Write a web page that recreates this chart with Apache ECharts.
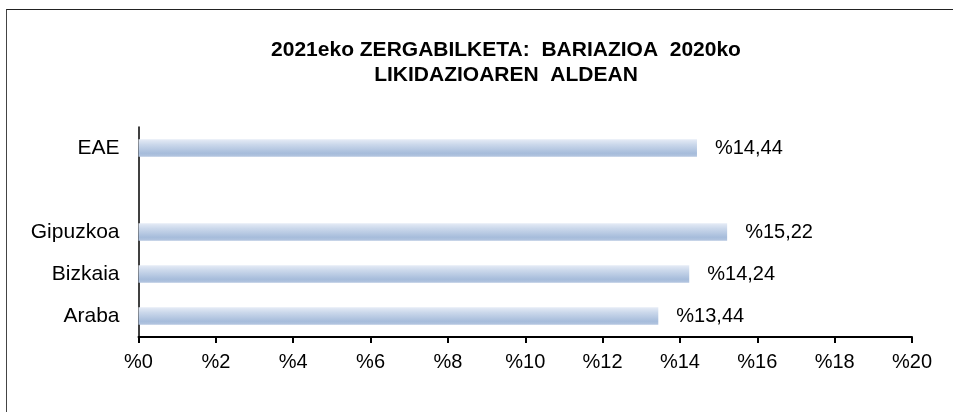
<!DOCTYPE html>
<html>
<head>
<meta charset="utf-8">
<script src="https://cdn.jsdelivr.net/npm/echarts@6/dist/echarts.min.js"></script>
<style>
  html, body { margin: 0; padding: 0; background: #fff; }
  #wrap { position: relative; width: 953px; height: 412px; overflow: hidden; }
  #frame { position: absolute; left: 6px; top: 9px; right: -10px; bottom: -10px;
           border-top: 1px solid #222; border-left: 1px solid #444; }
  #box { position: absolute; left: 0; top: 0; width: 953px; height: 412px; }
</style>
</head>
<body>
<div id="wrap">
  <div id="frame"></div>
  <div id="box"></div>
</div>
<script>
// datuak
const categories = ['Araba', 'Bizkaia', 'Gipuzkoa', '', 'EAE'];
const values = [13.44, 14.24, 15.22, null, 14.44];
const xTicks = [0, 2, 4, 6, 8, 10, 12, 14, 16, 18, 20];

const font = '"Liberation Sans", Arial, sans-serif';

let myChart = echarts.init(document.getElementById('box'));
let option = {
  animation: false,
  title: {
    text: '2021eko ZERGABILKETA:  BARIAZIOA  2020ko\nLIKIDAZIOAREN  ALDEAN',
    left: 501,
    top: 33,
    textAlign: 'center',
    textStyle: {
      fontFamily: font,
      fontWeight: 'bold',
      fontSize: 21,
      lineHeight: 25,
      color: '#000'
    }
  },
  grid: { left: 138.5, right: 41, top: 127, bottom: 75 },
  xAxis: {
    type: 'value',
    min: xTicks[0],
    max: xTicks[xTicks.length - 1],
    interval: 2,
    axisLine: { show: true, lineStyle: { color: '#000', width: 2 } },
    axisTick: { show: true, length: 6, lineStyle: { color: '#000', width: 2 } },
    splitLine: { show: false },
    axisLabel: {
      margin: 15,
      color: '#000',
      fontFamily: font,
      fontSize: 20,
      formatter: v => '%' + v
    }
  },
  yAxis: {
    type: 'category',
    data: categories,
    axisLine: { show: true, lineStyle: { color: '#000', width: 1.5 } },
    axisTick: { show: false },
    axisLabel: {
      margin: 19,
      color: '#000',
      fontFamily: font,
      fontSize: 21
    }
  },
  series: [
    {
      type: 'bar',
      data: values,
      barWidth: '42%',
      itemStyle: {
        color: new echarts.graphic.LinearGradient(0, 0, 0, 1, [
          { offset: 0, color: '#e6ecf6' },
          { offset: 0.3, color: '#cbd8eb' },
          { offset: 0.8, color: '#a6bcdb' },
          { offset: 1, color: '#b4c6e0' }
        ])
      },
      label: {
        show: true,
        position: 'right',
        distance: 18,
        color: '#000',
        fontFamily: font,
        fontSize: 20,
        formatter: p => '%' + p.value.toFixed(2).replace('.', ',')
      }
    }
  ]
};
myChart.setOption(option);
</script>
</body>
</html>
